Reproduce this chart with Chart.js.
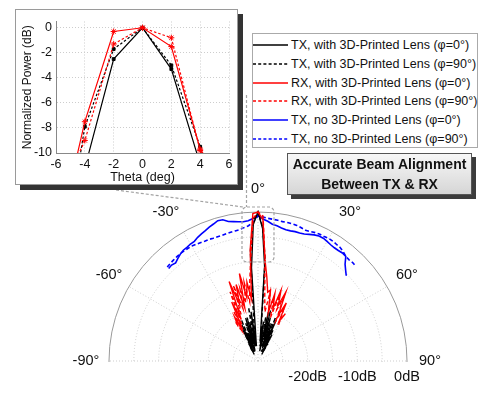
<!DOCTYPE html>
<html>
<head>
<meta charset="utf-8">
<script src="https://cdn.jsdelivr.net/npm/chart.js@4.4.1/dist/chart.umd.min.js"></script>
<style>
  html, body { margin: 0; padding: 0; background: #fff; }
  body { width: 481px; height: 397px; overflow: hidden; position: relative; font-family: "Liberation Sans", Arial, sans-serif; color: #111; }
  #polarWrap { position: absolute; left: 0; top: 0; width: 481px; height: 520px; }
  #insetBox { position: absolute; left: 15px; top: 9px; width: 223px; height: 176px; box-sizing: border-box; border: 1px solid #9a9a9a; background: #fff; box-shadow: 5px 5px 0 #333; }
  #insetBox canvas { position: absolute; left: 0; top: 0; }
  #legend { position: absolute; left: 252px; top: 33px; width: 226px; height: 115px; box-sizing: border-box; border: 1px solid #aaa; background: #fff; padding-top: 1.6px; }
  .row { height: 18.8px; display: flex; align-items: center; font-size: 12.5px; white-space: nowrap; }
  .row svg { margin-right: 3px; flex: none; }
  #note { position: absolute; left: 287px; top: 153px; width: 185px; height: 42px; box-sizing: border-box; border: 1px solid #555; background: linear-gradient(#f7f7f7, #d6d6d6); box-shadow: 4px 4px 0 #3c3c3c; text-align: center; font-weight: bold; font-size: 14px; line-height: 20px; }
</style>
</head>
<body>
<div id="polarWrap"><canvas id="polar" width="481" height="520"></canvas></div>
<div id="insetBox"><canvas id="inset" width="221" height="174"></canvas></div>
<div id="legend"></div>
<div id="note">Accurate Beam Alignment<br>Between TX &amp; RX</div>
<script>
Chart.defaults.font.family = '"Liberation Sans", Arial, sans-serif';
Chart.defaults.color = '#111';

// angles in degrees, normalized power in dB
const lensAngles = [-30, -28, -26, -24, -22, -20, -18, -16, -14, -12, -10, -8, -6, -4, -2, 0,
  2, 4, 6, 8, 10, 12, 14, 16, 18, 20, 22, 24, 26, 28, 30];
const noLensAngles = [-44, -42, -40, -38, -36, -34, -32, -30, -28, -26, -24, -22, -20, -18, -16, -14,
  -12, -10, -8, -6, -4, -2, 0, 2, 4, 6, 8, 10, 12, 14, 16, 18, 20, 22, 24, 26, 28, 30, 32, 34, 36,
  38, 40, 42, 44, 46];

const txLens0 = [-28.5, -26, -28, -22, -27, -24, -28, -21, -26, -22, -27, -20, -27, -11.2, -2.5, 0,
  -3.3, -10.9, -26, -22, -28, -20, -25, -21, -27, -22, -26, -21, -28, -24, -28.5];
const txLens90 = [-27, -28, -23, -28, -21, -27, -22, -28, -21, -27, -19, -26, -22, -7.9, -1.7, 0,
  -3.0, -9.5, -24, -27, -21, -27, -19.5, -27, -22, -28, -20.5, -27, -23, -28, -26];
const rxLens0 = [-22, -20, -23, -17, -21, -13, -18, -14, -19, -12, -17, -14, -17.5, -7.5, -0.3, 0,
  -1.5, -9.7, -13, -16, -15.5, -20, -16, -19, -15, -18, -15, -20, -17, -21, -19];
const rxLens90 = [-21, -23, -19, -22, -15, -20, -14, -19, -15, -18, -14, -18, -14.1, -9.0, -1.3, 0,
  -0.8, -9.8, -17, -20, -16, -19, -17, -21, -16, -19, -16.5, -21, -18, -20, -22];
const txNoLens0 = [-4.1, -4.0, -4.2, -3.8, -3.4, -3.1, -3.0, -2.8, -2.7, -2.3,
  -2.0, -1.7, -1.3, -1.0, -0.6, -0.7, -1.3, -1.5, -1.7, -1.8,
  -1.7, -1.3, -0.6, -1.4, -1.8, -2.3, -2.5, -2.8, -3.0, -3.0,
  -2.9, -2.9, -2.8, -2.5, -2.2, -2.0, -2.0, -2.2, -2.4, -2.5,
  -2.5, -2.4, -2.5, -3.8, -4.6, -5.3];
const txNoLens90 = [-3.7, -3.6, -3.5, -3.4, -3.3, -3.3, -3.3, -3.3, -3.4, -3.5,
  -3.6, -3.6, -3.7, -3.7, -3.7, -3.6, -3.5, -3.4, -3.3, -3.0,
  -2.7, -2.0, -0.8, -1.0, -1.2, -1.3, -1.4, -1.5, -1.5, -1.55,
  -1.6, -1.8, -2.0, -1.9, -1.7, -1.6, -1.6, -1.5, -1.55, -1.7,
  -1.8, -2.1, -2.5, -2.6, -2.5, -2.6];

const seriesNames = [
  'TX, with 3D-Printed Lens (φ=0°)',
  'TX, with 3D-Printed Lens (φ=90°)',
  'RX, with 3D-Printed Lens (φ=0°)',
  'RX, with 3D-Printed Lens (φ=90°)',
  'TX, no 3D-Printed Lens (φ=0°)',
  'TX, no 3D-Printed Lens (φ=90°)'
];

const spokeAngles = [-90, -60, -30, 0, 30, 60, 90];
const ringLabels = [-20, -10, 0];
const insetXTicks = [-6, -4, -2, 0, 2, 4, 6];

// one label every 2 degrees, -180..178 (radar needs a full turn)
const angleLabels = [];
for (let a = -180; a < 180; a += 2) angleLabels.push(a);
const angleIndex = a => angleLabels.indexOf(a);

const styles = [
  { color: '#000', dash: [] },
  { color: '#000', dash: [4, 2.5] },
  { color: '#ff0000', dash: [] },
  { color: '#ff0000', dash: [4, 2.5] },
  { color: '#0000ff', dash: [] },
  { color: '#0000ff', dash: [4, 2.5] }
];
const seriesData = [
  [lensAngles, txLens0], [lensAngles, txLens90], [lensAngles, rxLens0],
  [lensAngles, rxLens90], [noLensAngles, txNoLens0], [noLensAngles, txNoLens90]
];
const drawOrder = [1, 1, 0, 0, 2, 2];

function toRadar(angles, values) {
  const out = angleLabels.map(() => null);
  angles.forEach((a, i) => { out[angleIndex(a)] = values[i]; });
  return out;
}

// legend
const legendEl = document.getElementById('legend');
seriesNames.forEach((name, i) => {
  const row = document.createElement('div');
  row.className = 'row';
  const dash = styles[i].dash.length ? 'stroke-dasharray="3,2.2"' : '';
  row.innerHTML = `<svg width="35" height="4"><line x1="0" y1="2" x2="35" y2="2" stroke="${styles[i].color}" stroke-width="1.4" ${dash}/></svg><span>${name}</span>`;
  legendEl.appendChild(row);
});

const polarDeco = {
  id: 'polarDeco',
  beforeDatasetsDraw(chart) {
    const s = chart.scales.r;
    const ctx = chart.ctx;
    ctx.save();
    ctx.fillStyle = '#fff';
    ctx.fillRect(0, s.yCenter + 1, chart.width, chart.height);
    ctx.restore();
  },
  afterDraw(chart) {
    const s = chart.scales.r;
    const ctx = chart.ctx;
    ctx.save();
    ctx.font = '14.5px "Liberation Sans", Arial, sans-serif';
    ctx.fillStyle = '#111';
    ctx.textAlign = 'center';
    ctx.textBaseline = 'middle';
    spokeAngles.forEach(a => {
      const p = s.getPointPosition(angleIndex(a), s.drawingArea + 23);
      const nudge = Math.abs(a) === 30 ? Math.sign(a) * 6 : 0;
      ctx.fillText(a + '°', p.x + nudge, p.y);
    });
    ringLabels.forEach(v => {
      const x = s.xCenter + s.getDistanceFromCenterForValue(v);
      ctx.fillText(v + 'dB', x, s.yCenter + 16);
    });
    // zoom box around the main beam and its leader lines to the inset
    ctx.strokeStyle = '#a3a3a3';
    ctx.lineWidth = 1.2;
    ctx.setLineDash([3, 2]);
    ctx.beginPath();
    ctx.roundRect(s.xCenter - 16, s.yCenter - 154, 32, 55, 5);
    ctx.stroke();
    ctx.beginPath();
    ctx.moveTo(246.5, 95);
    ctx.lineTo(246.5, s.yCenter - 154);
    ctx.moveTo(116, 190);
    ctx.lineTo(243, s.yCenter - 154);
    ctx.stroke();
    ctx.restore();
  }
};

new Chart(document.getElementById('polar'), {
  type: 'radar',
  data: {
    labels: angleLabels,
    datasets: seriesData.map(([ang, val], i) => ({
      label: seriesNames[i],
      data: toRadar(ang, val),
      borderColor: styles[i].color,
      borderDash: styles[i].dash,
      borderWidth: i < 4 ? 1.4 : 1.6,
      pointRadius: 0,
      fill: false,
      tension: 0,
      spanGaps: false,
      order: drawOrder[i],
      clip: 6
    }))
  },
  options: {
    responsive: false,
    animation: false,
    layout: { padding: { left: 109, right: 74, top: 212, bottom: 10 } },
    plugins: { legend: { display: false }, tooltip: { enabled: false } },
    scales: {
      r: {
        min: -30,
        max: 0,
        startAngle: 180,
        ticks: { display: false, stepSize: 5 },
        pointLabels: { display: false },
        grid: {
          circular: true,
          color: c => c.tick.value === 0 ? '#9a9a9a' : '#cdcdcd',
          lineWidth: 1
        },
        border: { dash: c => c.tick.value === 0 ? [] : [1, 2] },
        angleLines: {
          color: '#cdcdcd',
          lineWidth: c => spokeAngles.includes(angleLabels[c.index]) ? 1 : 0,
          borderDash: [1, 2]
        }
      }
    }
  },
  plugins: [polarDeco]
});

// inset: same lens data, zoomed to the main beam
function insetPoints(values) {
  return lensAngles.map((a, i) => ({ x: a, y: values[i] })).filter(p => Math.abs(p.x) <= 6);
}
const insetSeries = [txLens0, txLens90, rxLens0, rxLens90];

new Chart(document.getElementById('inset'), {
  type: 'scatter',
  data: {
    datasets: insetSeries.map((vals, i) => ({
      data: insetPoints(vals),
      showLine: true,
      borderColor: styles[i].color,
      backgroundColor: styles[i].color,
      borderDash: styles[i].dash.length ? [2.5, 2] : [],
      borderWidth: 1.2,
      pointStyle: i < 2 ? 'rect' : 'star',
      pointRadius: i < 2 ? 2 : 3,
      pointBorderWidth: 1,
      order: i < 2 ? 1 : 0
    }))
  },
  options: {
    responsive: false,
    animation: false,
    layout: { padding: { left: 0, right: 8, top: 3, bottom: 0 } },
    plugins: { legend: { display: false }, tooltip: { enabled: false } },
    scales: {
      x: {
        type: 'linear',
        min: -6,
        max: 6,
        afterBuildTicks: s => { s.ticks = insetXTicks.map(v => ({ value: v })); },
        ticks: { font: { size: 12.5 }, padding: 4, color: '#111' },
        grid: { color: '#cdcdcd', drawTicks: false },
        border: { color: '#888', dash: [1, 2] },
        title: { display: true, text: 'Theta (deg)', color: '#111', font: { size: 12.5, lineHeight: 1 }, padding: { top: 0, bottom: 0 } },
        afterFit: s => { s.height = 31; }
      },
      y: {
        min: -10,
        max: 0.5,
        ticks: { stepSize: 2, includeBounds: false, font: { size: 12.5 }, padding: 4, color: '#111' },
        grid: { color: '#cdcdcd', drawTicks: false },
        border: { color: '#888', dash: [1, 2] },
        title: { display: true, text: 'Normalized Power (dB)', color: '#111', font: { size: 12, lineHeight: 1 }, padding: { top: 6, bottom: 0 } },
        afterFit: s => { s.width = 40; }
      }
    }
  }
});
</script>
</body>
</html>
